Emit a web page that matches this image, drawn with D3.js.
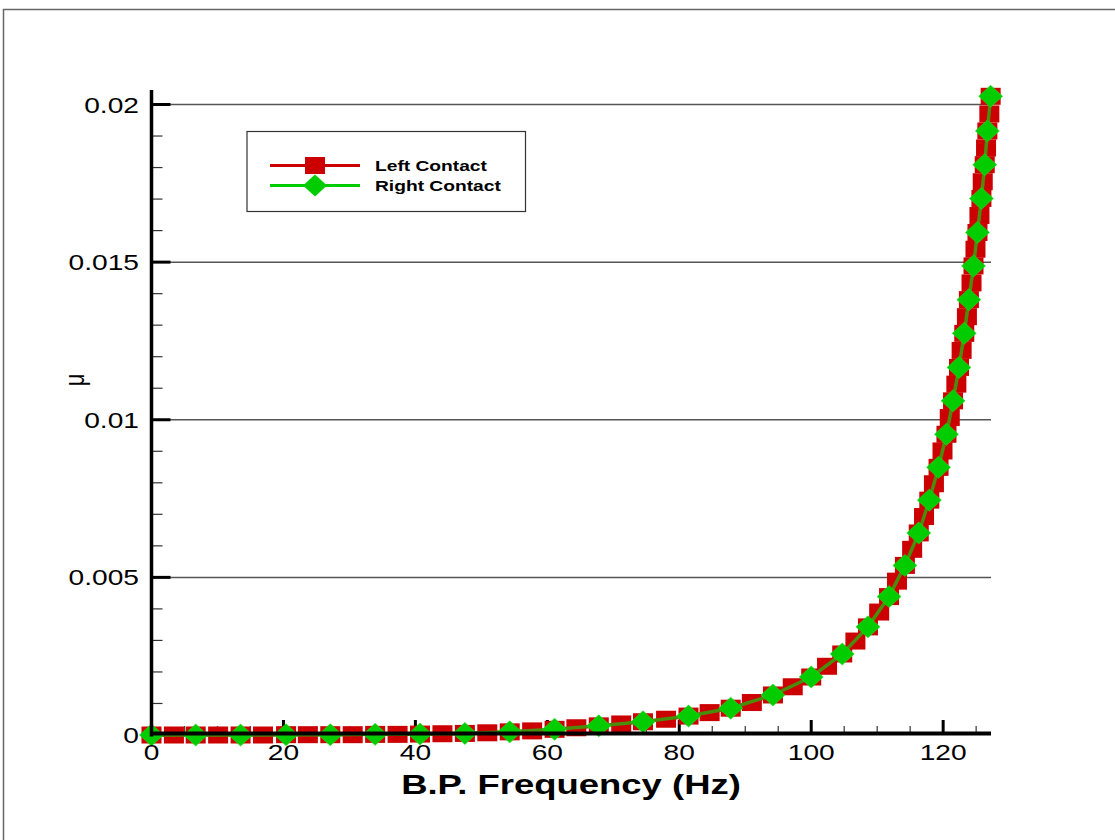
<!DOCTYPE html>
<html>
<head>
<meta charset="utf-8">
<script src="https://cdn.jsdelivr.net/npm/d3@7"></script>
<style>
html,body{margin:0;padding:0;background:#fff;}
svg{display:block;}
text{font-family:"Liberation Sans",Arial,sans-serif;}
</style>
</head>
<body>
<svg id="chart" width="1115" height="840"></svg>
<script>
// ---- data ----
const seriesNames = ["Left Contact", "Right Contact"];
const leftX = [0,3.4,6.7,10.1,13.5,16.9,20.4,23.7,27.1,30.5,33.9,37.3,40.7,44.1,47.5,50.9,54.3,57.7,61.1,64.4,67.8,71.2,74.5,78.0,81.4,84.6,87.8,91.0,94.2,97.2,100.0,102.4,104.7,106.7,108.6,110.3,111.8,113.0,114.2,115.3,116.3,117.1,117.9,118.6,119.3,119.9,120.5,121.0,121.5,122.0,122.4,122.8,123.2,123.6,123.9,124.3,124.6,124.9,125.2,125.5,125.8,126.0,126.3,126.5,126.7,127.0,127.2];
const leftY = [0,0,0,0,0,0,0.00001,0.00001,0.00001,0.00001,0.00002,0.00002,0.00003,0.00004,0.00005,0.00007,0.0001,0.00013,0.00018,0.00023,0.00029,0.00035,0.00042,0.0005,0.0006,0.00071,0.00085,0.00103,0.00127,0.00153,0.00184,0.00218,0.00257,0.00298,0.00343,0.0039,0.00439,0.00488,0.00538,0.00589,0.00641,0.00693,0.00745,0.00797,0.00849,0.00901,0.00954,0.01007,0.0106,0.01113,0.01166,0.0122,0.01274,0.01327,0.01381,0.01434,0.01488,0.01541,0.01594,0.01648,0.01702,0.01755,0.01809,0.01862,0.01916,0.0197,0.02026];
const rightX = [0,6.7,13.5,20.4,27.1,33.9,40.7,47.5,54.3,61.1,67.8,74.5,81.4,87.8,94.2,100.0,104.7,108.6,111.8,114.2,116.3,117.9,119.3,120.5,121.5,122.4,123.2,123.9,124.6,125.2,125.8,126.3,126.7,127.2];
const rightY = [0,0,0,0.00001,0.00001,0.00002,0.00003,0.00005,0.0001,0.00018,0.00029,0.00042,0.0006,0.00085,0.00127,0.00184,0.00257,0.00343,0.00439,0.00538,0.00641,0.00745,0.00849,0.00954,0.0106,0.01166,0.01274,0.01381,0.01488,0.01594,0.01702,0.01809,0.01916,0.02026];
const xTickValues = [0,20,40,60,80,100,120];
const xTickLabels = ["0","20","40","60","80","100","120"];
const xMinorValues = [5,10,15,25,30,35,45,50,55,65,70,75,85,90,95,105,110,115,125];
const yTickValues = [0,0.005,0.01,0.015,0.02];
const yTickLabels = ["0","0.005","0.01","0.015","0.02"];
const yMinorValues = [0.001,0.002,0.003,0.004,0.006,0.007,0.008,0.009,0.011,0.012,0.013,0.014,0.016,0.017,0.018,0.019];
const xTitle = "B.P. Frequency (Hz)";
const yTitle = "\u03bc";

// ---- layout ----
const svg = d3.select("#chart");
const SX = 1.28; // horizontal stretch of text seen in reference
const x = d3.scaleLinear().domain([0, 127.1]).range([151.5, 990]);
const y = d3.scaleLinear().domain([0, 0.02046]).range([735, 90]);
const xEnd = 991;

// frame
svg.append("rect").attr("x",3.5).attr("y",9.5).attr("width",1200).attr("height",900)
  .attr("fill","none").attr("stroke","#666").attr("stroke-width",1.5);

function stext(g, txt, px, py, anchor, size, weight){
  return g.append("text").attr("transform",`translate(${px},${py}) scale(${SX},1)`)
    .attr("text-anchor",anchor).attr("font-size",size).attr("font-weight",weight||"normal")
    .attr("fill","#000").text(txt);
}

// gridlines at major y ticks
svg.append("g").selectAll("line").data(yTickValues.filter(d=>d>0)).join("line")
  .attr("x1",x(0)).attr("x2",xEnd).attr("y1",d=>y(d)).attr("y2",d=>y(d))
  .attr("stroke","#555").attr("stroke-width",1.5);

// y minor ticks
svg.append("g").selectAll("line").data(yMinorValues).join("line")
  .attr("x1",x(0)).attr("x2",x(0)+11).attr("y1",d=>y(d)).attr("y2",d=>y(d))
  .attr("stroke","#333").attr("stroke-width",1.2);
// y major ticks
svg.append("g").selectAll("line").data(yTickValues).join("line")
  .attr("x1",x(0)).attr("x2",x(0)+19).attr("y1",d=>y(d)).attr("y2",d=>y(d))
  .attr("stroke","#000").attr("stroke-width",3);
// x minor ticks
svg.append("g").selectAll("line").data(xMinorValues).join("line")
  .attr("x1",d=>x(d)).attr("x2",d=>x(d)).attr("y1",y(0)).attr("y2",y(0)-9)
  .attr("stroke","#444").attr("stroke-width",1.3);
// x major ticks
svg.append("g").selectAll("line").data(xTickValues).join("line")
  .attr("x1",d=>x(d)).attr("x2",d=>x(d)).attr("y1",y(0)).attr("y2",y(0)-15)
  .attr("stroke","#000").attr("stroke-width",3);

// data
const left = leftX.map((d,i)=>({x:d,y:leftY[i]}));
const right = rightX.map((d,i)=>({x:d,y:rightY[i]}));
const line = d3.line().x(d=>x(d.x)).y(d=>y(d.y));

svg.append("path").datum(left).attr("d",line).attr("fill","none").attr("stroke","#cc0000").attr("stroke-width",3);
svg.append("g").selectAll("rect").data(left).join("rect")
  .attr("x",d=>x(d.x)-10).attr("y",d=>y(d.y)-8.5).attr("width",20).attr("height",17)
  .attr("fill","#cc0000");
svg.append("path").datum(right).attr("d",line).attr("fill","none").attr("stroke","#4a8c0c").attr("stroke-width",3.5);
const diamond = (cx,cy)=>`M${cx-12},${cy}L${cx},${cy-11}L${cx+12},${cy}L${cx},${cy+11}Z`;
svg.append("g").selectAll("path").data(right).join("path")
  .attr("d",d=>diamond(x(d.x),y(d.y))).attr("fill","#00cc00").attr("stroke","#22dd22").attr("stroke-width",0.6);

// axes lines
svg.append("line").attr("x1",x(0)).attr("x2",x(0)).attr("y1",y.range()[1]).attr("y2",y(0)+1.5)
  .attr("stroke","#000").attr("stroke-width",3.5);
svg.append("line").attr("x1",x(0)-1.5).attr("x2",xEnd).attr("y1",y(0)-1.5).attr("y2",y(0)-1.5)
  .attr("stroke","#000").attr("stroke-width",4);

// tick labels
const gl = svg.append("g");
yTickValues.forEach((v,i)=>{ stext(gl, yTickLabels[i], 139, y(v)+8, "end", 22); });
xTickValues.forEach((v,i)=>{ stext(gl, xTickLabels[i], x(v), 760, "middle", 22); });

// titles
stext(svg, xTitle, 571, 794, "middle", 28.5, "bold");
svg.append("text").attr("transform",`translate(84,380) rotate(-90) scale(1,${SX})`)
  .attr("text-anchor","middle").attr("font-size",22).attr("fill","#000").text(yTitle);

// legend
const lg = svg.append("g");
lg.append("rect").attr("x",247).attr("y",131.5).attr("width",278.5).attr("height",80)
  .attr("fill","#fff").attr("stroke","#333").attr("stroke-width",1.2);
const legendRows = [{name:seriesNames[0], y:165.5, color:"#cc0000", sym:"square"},
                    {name:seriesNames[1], y:185.5, color:"#00cc00", sym:"diamond"}];
legendRows.forEach(r=>{
  lg.append("line").attr("x1",270).attr("x2",360).attr("y1",r.y).attr("y2",r.y)
    .attr("stroke",r.color).attr("stroke-width",3);
  if(r.sym==="square"){
    lg.append("rect").attr("x",305).attr("y",r.y-8.5).attr("width",20).attr("height",17).attr("fill",r.color);
  } else {
    lg.append("path").attr("d",diamond(315,r.y)).attr("fill",r.color);
  }
  stext(lg, r.name, 375, r.y+5.5, "start", 15, "bold");
});
</script>
</body>
</html>
